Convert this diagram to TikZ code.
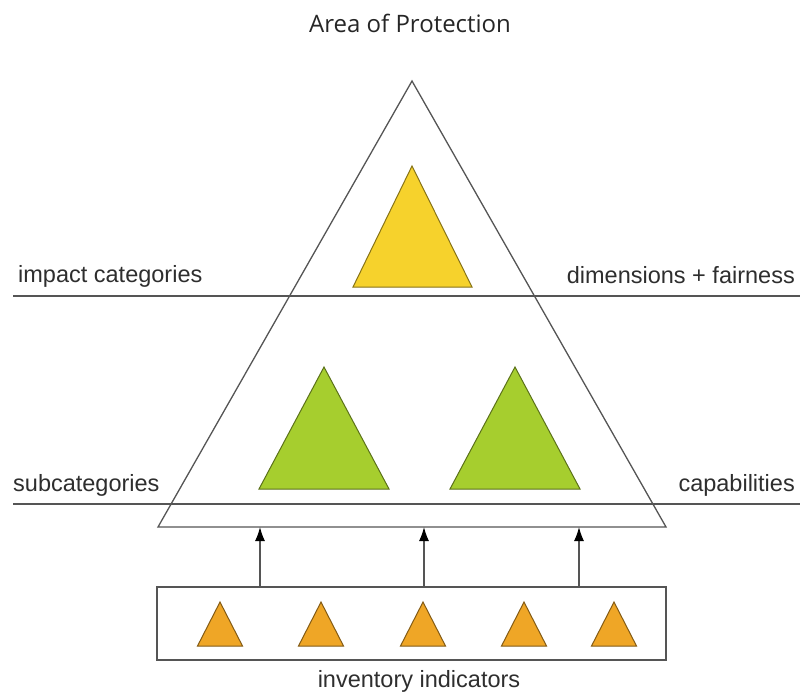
\documentclass[tikz,border=0pt]{standalone}
\usepackage{fontspec}
\setmainfont{Liberation Sans}
\newfontfamily\titlefont{Open Sans}
\usetikzlibrary{arrows.meta,positioning}

\definecolor{linegray}{HTML}{555555}
\definecolor{textgray}{HTML}{2E2E2E}
\definecolor{aopyellow}{HTML}{F6D22C}
\definecolor{subgreen}{HTML}{A6CE2E}
\definecolor{indorange}{HTML}{EFA626}

\tikzset{
  sepline/.style={draw=linegray, line width=1.4pt},
  bigtri/.style={draw=linegray, line width=1.3pt, line join=miter},
  filltri/.style={draw=#1!55!black, fill=#1, line width=1pt, line join=miter},
  lbl/.style={font=\fontsize{23.5}{28}\selectfont, text=textgray, inner sep=0pt},
  uparrow/.style={draw=linegray, line width=1.3pt,
    -{Latex[length=14pt,width=10pt,fill=black,color=black]}}
}

\begin{document}
\begin{tikzpicture}[x=1pt,y=-1pt]
  \useasboundingbox (0,0) rectangle (800,694);

  % Title
  \node[lbl, font=\titlefont\fontsize{24}{28}\selectfont, text=black!85, anchor=base] (aop) at (410,32) {Area of Protection};

  % Level lines
  \draw[sepline] (13,296) -- (800,296);
  \draw[sepline] (13,504) -- (800,504);

  % Level labels
  \node[lbl, anchor=base west] (impact) at (18,282) {impact categories};
  \node[lbl, anchor=base east] (dims) at (795,283) {dimensions + fairness};
  \node[lbl, anchor=base west] (subcat) at (13,491) {subcategories};
  \node[lbl, anchor=base east] (capab) at (795,491) {capabilities};

  % Big triangle
  \draw[bigtri] (158,527) coordinate (bl) -- (412,81) coordinate (apex)
    -- (666,527) coordinate (br) -- cycle;

  % Inner triangles
  \draw[filltri=aopyellow] (353,287) -- (412,166) -- (472,287) -- cycle;
  \draw[filltri=subgreen] (259,489) -- (324,367) -- (389,489) -- cycle;
  \draw[filltri=subgreen] (450,489) -- (515,367) -- (580,489) -- cycle;

  % Inventory box
  \node[draw=linegray, line width=1.4pt, minimum width=509pt, minimum height=73pt,
        inner sep=0pt] (ind) at (411.5,623.5) {};
  \foreach \x in {220,321,423,524,614}
    \draw[filltri=indorange] (\x-22.5,646) -- (\x,602) -- (\x+22.5,646) -- cycle;
  \node[lbl, anchor=base] (indlbl) at (419,687) {inventory indicators};

  % Arrows up to the big triangle
  \foreach \x [count=\i] in {260,424,579} {
    \coordinate (u\i) at (\x,0);
    \draw[uparrow] (ind.north -| u\i) -- (bl -| u\i);
  }
\end{tikzpicture}
\end{document}
